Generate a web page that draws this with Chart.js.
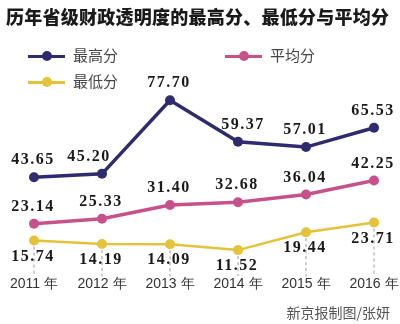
<!DOCTYPE html>
<html>
<head>
<meta charset="utf-8">
<script src="https://cdn.jsdelivr.net/npm/chart.js@4"></script>
<style>
  body { margin: 0; background: #fff; }
  #wrap { position: relative; width: 400px; height: 324px; overflow: hidden; }
  #chart { position: absolute; left: 0; top: 0; }
  .title {
    position: absolute; left: 6px; top: 3px; white-space: nowrap; letter-spacing: 0.25px;
    font: 900 18px "Noto Sans CJK SC", sans-serif; color: #1a1a1a;
  }
  .leg { position: absolute; font: 15px "Noto Sans CJK SC", sans-serif; color: #444; white-space: nowrap; }
  .leg .ln { position: absolute; left: 0; top: 9px; width: 37px; height: 3px; }
  .leg .dt { position: absolute; left: 14px; top: 5px; width: 10px; height: 10px; border-radius: 50%; }
  .leg span.tx { position: absolute; left: 45px; top: -2px; }
  .credit { position: absolute; right: 10px; top: 302px; font: 14px "Noto Sans CJK SC", sans-serif; color: #555; }
</style>
</head>
<body>
<div id="wrap">
  <canvas id="chart" width="400" height="324"></canvas>
  <div class="title">历年省级财政透明度的最高分、最低分与平均分</div>
  <div id="legend"></div>
  <div class="credit">新京报制图/张妍</div>
</div>
<script>
const years = ["2011 年", "2012 年", "2013 年", "2014 年", "2015 年", "2016 年"];
const highScores = [43.65, 45.20, 77.70, 59.37, 57.01, 65.53];
const avgScores = [23.14, 25.33, 31.40, 32.68, 36.04, 42.25];
const lowScores = [15.74, 14.19, 14.09, 11.52, 19.44, 23.71];

const seriesNames = ["最高分", "平均分", "最低分"];
const seriesColors = ["#2e2b6e", "#c7528b", "#e5c23a"];

// a couple of labels sit off-centre in the original
const labelNudge = { "0-1": -12, "0-3": 6 };

// legend laid out like the original: two rows
const legendSpots = [[28, 46], [225, 46], [28, 72]];
const legendDiv = document.getElementById("legend");
seriesNames.forEach((name, i) => {
  const el = document.createElement("div");
  el.className = "leg";
  el.style.left = legendSpots[i][0] + "px";
  el.style.top = legendSpots[i][1] + "px";
  el.innerHTML = `<div class="ln" style="background:${seriesColors[i]}"></div>
    <div class="dt" style="background:${seriesColors[i]}"></div>
    <span class="tx">${name}</span>`;
  legendDiv.appendChild(el);
});

// dashed drops from the lowest score to the axis
const dropLines = {
  id: "dropLines",
  beforeDatasetsDraw(chart) {
    const ctx = chart.ctx;
    const meta = chart.getDatasetMeta(2);
    ctx.save();
    ctx.strokeStyle = "#999";
    ctx.lineWidth = 1;
    ctx.setLineDash([3, 3]);
    meta.data.forEach((pt) => {
      ctx.beginPath();
      ctx.moveTo(pt.x, pt.y);
      ctx.lineTo(pt.x, chart.chartArea.bottom);
      ctx.stroke();
    });
    ctx.restore();
  },
};

// value labels: above for high/avg, below for low
const valueLabels = {
  id: "valueLabels",
  afterDatasetsDraw(chart) {
    const ctx = chart.ctx;
    ctx.save();
    ctx.font = "bold 16px 'Liberation Serif', serif";
    ctx.letterSpacing = "1.5px";
    ctx.fillStyle = "#1a1a1a";
    ctx.textAlign = "center";
    ctx.textBaseline = "middle";
    chart.data.datasets.forEach((ds, di) => {
      const meta = chart.getDatasetMeta(di);
      const off = di === 2 ? 16 : -17;
      meta.data.forEach((pt, i) => {
        const dx = labelNudge[di + "-" + i] || 0;
        ctx.fillText(ds.data[i].toFixed(2), pt.x + dx - 1, pt.y + off);
      });
    });
    ctx.restore();
  },
};

new Chart(document.getElementById("chart"), {
  type: "line",
  data: {
    labels: years,
    datasets: [highScores, avgScores, lowScores].map((vals, i) => ({
      label: seriesNames[i],
      data: vals,
      borderColor: seriesColors[i],
      backgroundColor: seriesColors[i],
      borderWidth: i === 2 ? 2.5 : 3.5,
      pointRadius: 5,
      pointBorderWidth: 0,
      pointBackgroundColor: seriesColors[i],
      tension: 0,
    })),
  },
  options: {
    responsive: false,
    animation: false,
    layout: { padding: { top: 95, left: 34, right: 26, bottom: 31 } },
    plugins: { legend: { display: false }, title: { display: false }, tooltip: { enabled: false } },
    scales: {
      x: {
        offset: false,
        grid: { display: false, drawTicks: false },
        border: { display: false },
        ticks: { padding: 0, color: "#333", font: { size: 14, family: "'Liberation Sans', sans-serif" }, maxRotation: 0 },
      },
      y: { display: false, min: 0, max: 80 },
    },
  },
  plugins: [dropLines, valueLabels],
});
</script>
</body>
</html>
